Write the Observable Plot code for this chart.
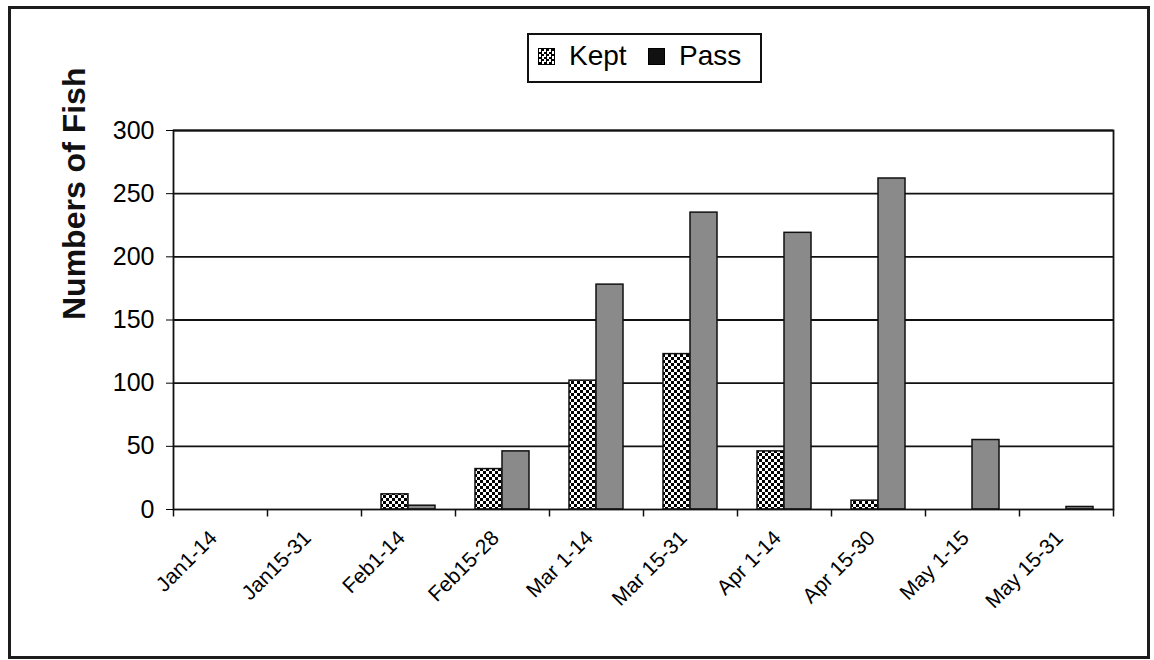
<!DOCTYPE html>
<html>
<head>
<meta charset="utf-8">
<script src="https://cdn.jsdelivr.net/npm/d3@7"></script>
<script src="https://cdn.jsdelivr.net/npm/@observablehq/plot@0.6"></script>
<style>
  html, body { margin: 0; padding: 0; background: #fff; }
  #wrap { position: relative; width: 1154px; height: 660px; font-family: "Liberation Sans", Arial, sans-serif; }
  #wrap svg.chart { position: absolute; left: 0; top: 0; }
  #outer { position: absolute; left: 8px; top: 6px; width: 1142px; height: 653px; border: 3px solid #1c1c1c; box-sizing: border-box; pointer-events: none; }
  #legend { position: absolute; left: 527px; top: 33px; width: 235px; height: 50px; border: 2px solid #111; box-sizing: border-box; background: #fff; }
  #legend .sw { position: absolute; top: 13px; width: 17px; height: 17px; box-sizing: border-box; border: 1px solid #000; }
  #legend .lab { position: absolute; top: 4px; font-size: 28px; line-height: 34px; color: #000; }
</style>
</head>
<body>
<svg width="0" height="0" style="position:absolute">
  <defs>
    <pattern id="checker" width="6" height="6" patternUnits="userSpaceOnUse">
      <rect width="6" height="6" fill="#fff"/>
      <rect width="3" height="3" fill="#000"/>
      <rect x="3" y="3" width="3" height="3" fill="#000"/>
    </pattern>
  </defs>
</svg>
<div id="wrap">
  <div id="legend">
    <div class="sw" style="left:9px;background:repeating-conic-gradient(#000 0 25%, #fff 0 50%) 0 0/5px 5px;"></div>
    <div class="lab" style="left:40px;">Kept</div>
    <div class="sw" style="left:119px;background:#111;"></div>
    <div class="lab" style="left:150px;">Pass</div>
  </div>
  <div id="outer"></div>
</div>
<script>
const categories = ["Jan1-14", "Jan15-31", "Feb1-14", "Feb15-28", "Mar 1-14", "Mar 15-31", "Apr 1-14", "Apr 15-30", "May 1-15", "May 15-31"];
const series = ["Kept", "Pass"];
const kept = [0, 0, 12, 32, 102, 123, 46, 7, 0, 0];
const pass = [0, 0, 3, 46, 178, 235, 219, 262, 55, 2];
const yTicks = [0, 50, 100, 150, 200, 250, 300];
const yLabel = "Numbers of Fish";

const data = categories.flatMap((c, i) => [
  {category: c, series: "Kept", value: kept[i]},
  {category: c, series: "Pass", value: pass[i]}
]);

const tickSym = {draw(context) { context.moveTo(0, 0); context.lineTo(0, 7); }};

const chart = Plot.plot({
  width: 1154,
  height: 660,
  marginLeft: 173,
  marginRight: 41,
  marginTop: 130,
  marginBottom: 151,
  style: {fontFamily: "'Liberation Sans', Arial, sans-serif", color: "#000", background: "#fff"},
  fx: {domain: categories, padding: 0, label: null},
  x: {domain: series, paddingInner: 0, paddingOuter: 0.74, axis: null},
  y: {domain: [0, 300], label: null},
  color: {domain: series, range: ["url(#checker)", "#8a8a8a"]},
  marks: [
    Plot.ruleY(yTicks.slice(1), {stroke: "#111", strokeWidth: 1.8}),
    Plot.barY(data, {fx: "category", x: "series", y: "value", fill: "series", stroke: "#111", strokeWidth: 1.5}),
    Plot.frame({facet: "super", stroke: "#111", strokeWidth: 1.8}),
    Plot.axisY({ticks: yTicks, tickSize: 7, tickPadding: 12, fontSize: 25, label: null}),
    Plot.axisFx({anchor: "bottom", tickRotate: -45, tickSize: 0, tickPadding: 25, dx: -7, fontSize: 21, label: null}),
    Plot.dot([0], {frameAnchor: "bottom-left", symbol: tickSym, stroke: "#111", strokeWidth: 1.5}),
    Plot.dot([0], {frameAnchor: "bottom-right", symbol: tickSym, stroke: "#111", strokeWidth: 1.5, facet: "super"}),
    Plot.text([yLabel], {frameAnchor: "left", rotate: -90, dx: -99, fontSize: 32, fontWeight: "bold", fill: "#111", facet: "super"})
  ]
});
chart.classList.add("chart");
document.getElementById("wrap").prepend(chart);
</script>
</body>
</html>
